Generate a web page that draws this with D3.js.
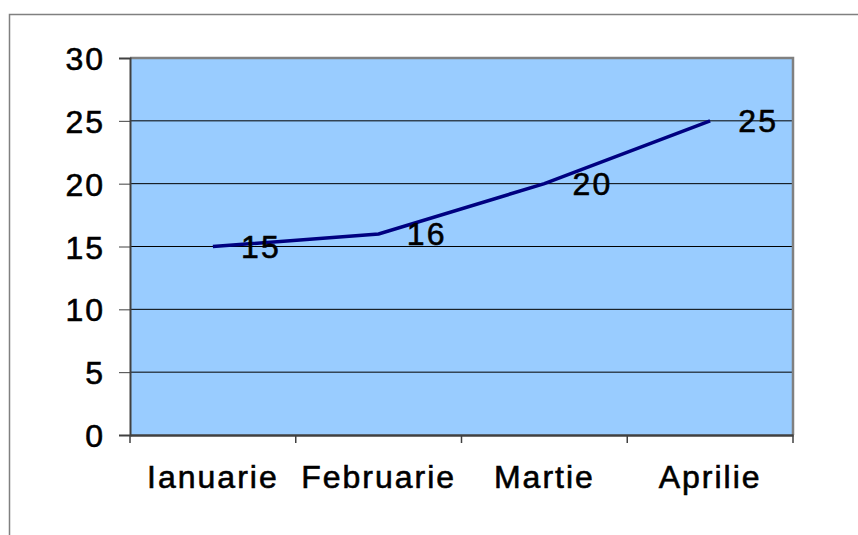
<!DOCTYPE html>
<html>
<head>
<meta charset="utf-8">
<script src="https://cdn.jsdelivr.net/npm/d3@7"></script>
<style>
  body { margin: 0; background: #fff; }
  text { font-family: "Liberation Sans", Arial, sans-serif; stroke: #000; stroke-width: 0.6px; }
</style>
</head>
<body>
<div id="chart"></div>
<script>
// chart data
const months = ["Ianuarie", "Februarie", "Martie", "Aprilie"];
const values = [15, 16, 20, 25];
const yTicks = [0, 5, 10, 15, 20, 25, 30];

const width = 858, height = 535;
const plot = { left: 130, top: 58, right: 793, bottom: 435 };

const svg = d3.select("#chart").append("svg")
  .attr("width", width)
  .attr("height", height);

// outer chart border (only top/left show in the frame)
svg.append("path")
  .attr("d", `M9.5,${height + 5} V14.5 H${width + 5}`)
  .attr("fill", "none")
  .attr("stroke", "#808080")
  .attr("stroke-width", 1.5);

const x = d3.scaleBand()
  .domain(months)
  .range([plot.left, plot.right]);

const y = d3.scaleLinear()
  .domain([0, 30])
  .range([plot.bottom, plot.top]);

// plot area background
svg.append("rect")
  .attr("x", plot.left)
  .attr("y", plot.top)
  .attr("width", plot.right - plot.left)
  .attr("height", plot.bottom - plot.top)
  .attr("fill", "#99CCFF");

// gridlines
svg.selectAll("line.grid")
  .data(yTicks.filter(d => d > 0))
  .enter()
  .append("line")
  .attr("class", "grid")
  .attr("x1", plot.left)
  .attr("x2", plot.right)
  .attr("y1", d => y(d))
  .attr("y2", d => y(d))
  .attr("stroke", "#000")
  .attr("stroke-width", 1);

// plot area border, top and right in gray
svg.append("path")
  .attr("d", `M${plot.left},${plot.top} H${plot.right} V${plot.bottom}`)
  .attr("fill", "none")
  .attr("stroke", "#808080")
  .attr("stroke-width", 2.5);

// y axis
const yAxis = svg.append("g")
  .attr("transform", `translate(${plot.left},0)`)
  .call(d3.axisLeft(y).tickValues(yTicks).tickSize(11).tickPadding(14));
yAxis.select(".domain").attr("stroke", "#404040").attr("stroke-width", 2);
yAxis.selectAll(".tick line").attr("stroke", "#404040");
yAxis.selectAll("text")
  .attr("font-size", 32)
  .attr("letter-spacing", 2)
  .attr("fill", "#000")
  .attr("dy", "0.36em");

// x axis
const xAxis = svg.append("g")
  .attr("transform", `translate(0,${plot.bottom})`)
  .call(d3.axisBottom(x).tickSize(0).tickPadding(30));
xAxis.select(".domain").attr("stroke", "#404040").attr("stroke-width", 2.5);
xAxis.selectAll("text")
  .attr("font-size", 32)
  .attr("letter-spacing", 2)
  .attr("fill", "#000");

// x tick marks at category boundaries
const bounds = months.map(m => x(m)).concat([plot.right]);
svg.selectAll("line.xtick")
  .data(bounds)
  .enter()
  .append("line")
  .attr("class", "xtick")
  .attr("x1", d => d)
  .attr("x2", d => d)
  .attr("y1", plot.bottom)
  .attr("y2", plot.bottom + 8)
  .attr("stroke", "#404040")
  .attr("stroke-width", 1.5);

// series line
const line = d3.line()
  .x((d, i) => x(months[i]) + x.bandwidth() / 2)
  .y(d => y(d));

svg.append("path")
  .datum(values)
  .attr("d", line)
  .attr("fill", "none")
  .attr("stroke", "#000080")
  .attr("stroke-width", 3.5);

// value labels
svg.selectAll("text.val")
  .data(values)
  .enter()
  .append("text")
  .attr("class", "val")
  .attr("x", (d, i) => x(months[i]) + x.bandwidth() / 2 + 48)
  .attr("y", d => y(d))
  .attr("dy", "0.36em")
  .attr("text-anchor", "middle")
  .attr("font-size", 32)
  .attr("letter-spacing", 2)
  .attr("fill", "#000")
  .text(d => d);
</script>
</body>
</html>
